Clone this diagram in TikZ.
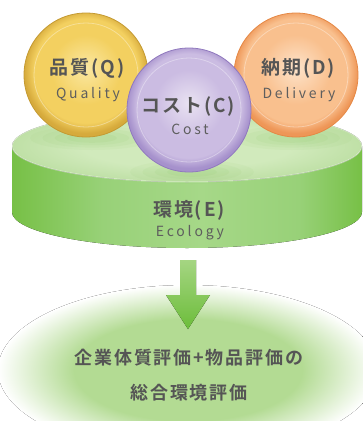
\documentclass[tikz,border=0pt]{standalone}
\usepackage{fontspec}
\newfontfamily\jpbold{Noto Sans CJK JP Bold}[LetterSpace=10]
\newfontfamily\latinsp{Noto Sans CJK JP}[LetterSpace=20]

% palette
\definecolor{txt}{HTML}{555555}
\definecolor{txtl}{HTML}{5E5E5E}
\definecolor{qlight}{HTML}{FBE8A2}
\definecolor{qmid}{HTML}{F3D060}
\definecolor{qdark}{HTML}{D6AA3C}
\definecolor{qedge}{HTML}{C49A32}
\definecolor{clight}{HTML}{E9E2F2}
\definecolor{cmid}{HTML}{CBBCE2}
\definecolor{cdark}{HTML}{A691CC}
\definecolor{cedge}{HTML}{9079BE}
\definecolor{dlight}{HTML}{FDE3CA}
\definecolor{dmid}{HTML}{F9C08E}
\definecolor{ddark}{HTML}{EE9657}
\definecolor{dedge}{HTML}{E58845}
\definecolor{topin}{HTML}{D1EABC}
\definecolor{topout}{HTML}{BFE0A6}
\definecolor{sideE}{HTML}{77C046}
\definecolor{sideA}{HTML}{98D178}
\definecolor{sideM}{HTML}{A6D888}
\definecolor{glowc}{HTML}{B3DB93}
\definecolor{arrtop}{HTML}{A5D582}
\definecolor{arrbot}{HTML}{6CBD3A}
\definecolor{shadowc}{HTML}{7FBF55}

% shadings (path edge sits at 25bp for radial, 25..75bp for linear)
\pgfdeclareradialshading{qball}{\pgfpoint{0bp}{3bp}}{color(0bp)=(qlight); color(14bp)=(qmid); color(21bp)=(qmid); color(25bp)=(qdark); color(50bp)=(qdark)}
\pgfdeclareradialshading{cball}{\pgfpoint{0bp}{3bp}}{color(0bp)=(clight); color(14bp)=(cmid); color(21bp)=(cmid); color(25bp)=(cdark); color(50bp)=(cdark)}
\pgfdeclareradialshading{dball}{\pgfpoint{0bp}{3bp}}{color(0bp)=(dlight); color(14bp)=(dmid); color(21bp)=(dmid); color(25bp)=(ddark); color(50bp)=(ddark)}
\pgfdeclareradialshading{topface}{\pgfpoint{0bp}{0bp}}{color(0bp)=(topin); color(15bp)=(topin); color(25bp)=(topout); color(50bp)=(topout)}
\pgfdeclarehorizontalshading{cylside}{100bp}{color(0bp)=(sideE); color(25bp)=(sideE); color(38bp)=(sideA); color(52bp)=(sideM); color(66bp)=(sideA); color(75bp)=(sideE); color(100bp)=(sideE)}
\pgfdeclareradialshading{glow}{\pgfpoint{0bp}{0bp}}{color(0bp)=(glowc); color(15bp)=(glowc); color(25bp)=(white); color(50bp)=(white)}
\pgfdeclareverticalshading{arrowsh}{100bp}{color(0bp)=(arrbot); color(25bp)=(arrbot); color(75bp)=(arrtop); color(100bp)=(arrtop)}

\tikzset{
  ball/.style={circle, minimum size=124pt, inner sep=0pt, line width=0.8pt},
  jlab/.style={text=txt, font=\jpbold\fontsize{19}{22}\selectfont, inner sep=0pt},
  elab/.style={text=txtl, font=\latinsp\fontsize{14}{16}\selectfont, inner sep=0pt},
  blab/.style={text=txt, font=\jpbold\fontsize{18}{22}\selectfont, inner sep=0pt},
  ring/.style={white, opacity=0.35, line width=0.8pt},
}

\begin{document}
\begin{tikzpicture}[x=1pt,y=-1pt]
\useasboundingbox (0,0) rectangle (363,421);
\clip (0,0) rectangle (363,421);

% soft ground under the result text
\fill[shading=glow] (188,370) ellipse [x radius=190, y radius=85];

% block arrow
\fill[shading=arrowsh] (180,260) -- (196,260) -- (196,295) -- (210,295)
  -- (188,329) -- (166,295) -- (180,295) -- cycle;

% cylinder: side wall, then top face
\fill[shading=cylside] (12,146) -- (12,212)
  arc[start angle=180, end angle=0, x radius=175, y radius=36]
  -- (362,146) -- cycle;
\fill[shading=topface] (187,146) ellipse [x radius=175, y radius=36];
\draw[white, opacity=0.45, line width=1pt] (187,146) ellipse [x radius=175, y radius=36];

% soft shadows of the balls on the top face
\foreach \r/\o in {1.0/0.06, 0.8/0.07, 0.6/0.08, 0.4/0.09}{
  \fill[shadowc, opacity=\o] (92,138) ellipse [x radius=62*\r, y radius=12*\r];
  \fill[shadowc, opacity=\o] (292,138) ellipse [x radius=60*\r, y radius=12*\r];
  \fill[shadowc, opacity=\o] (192,172) ellipse [x radius=62*\r, y radius=12*\r];
}

% balls
\node[ball, shading=qball, draw=qedge] (q) at (86,75) {};
\draw[ring] (q.center) circle [radius=52];
\node[ball, shading=dball, draw=dedge] (d) at (296,75) {};
\draw[ring] (d.center) circle [radius=52];
\node[ball, shading=cball, draw=cedge] (c) at (189,110) {};
\draw[ring] (c.center) circle [radius=52];

% labels
\node[jlab] (qj) at (87,68) {品質(Q)};
\node[elab] (qe) at (88,95) {Quality};
\node[jlab] (dj) at (298,68) {納期(D)};
\node[elab] (de) at (299,95) {Delivery};
\node[jlab] (cj) at (188,107) {コスト(C)};
\node[elab] (ce) at (190,129) {Cost};
\node[jlab] (ej) at (189,210) {環境(E)};
\node[elab] (ee) at (190,233) {Ecology};

% result
\node[blab] (r1) at (189,358) {企業体質評価+物品評価の};
\node[blab] (r2) at (189,393) {総合環境評価};
\end{tikzpicture}
\end{document}
